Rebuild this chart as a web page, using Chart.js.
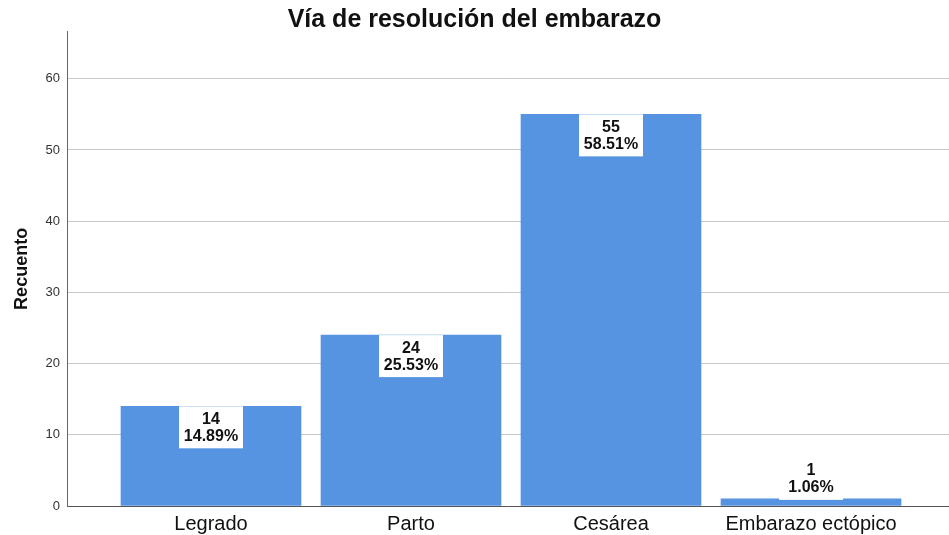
<!DOCTYPE html>
<html>
<head>
<meta charset="utf-8">
<script src="https://cdn.jsdelivr.net/npm/chart.js@4/dist/chart.umd.min.js"></script>
<style>
  html, body { margin: 0; padding: 0; background: #fff; }
  #wrap { width: 949px; height: 535px; }
</style>
</head>
<body>
<div id="wrap"><canvas id="chart"></canvas></div>
<script>
const categories = ['Legrado', 'Parto', 'Cesárea', 'Embarazo ectópico'];
const counts = [14, 24, 55, 1];
const percents = ['14.89%', '25.53%', '58.51%', '1.06%'];
const yTicks = [0, 10, 20, 30, 40, 50, 60];

const font = "'Liberation Sans', Arial, sans-serif";

// white box with count + percent, at the top of each bar
const labelBoxes = {
    id: 'labelBoxes',
    afterDatasetsDraw(chart) {
        const ctx = chart.ctx;
        const meta = chart.getDatasetMeta(0);
        const base = chart.scales.y.getPixelForValue(0);
        const boxW = 64, boxH = 42;
        ctx.save();
        meta.data.forEach(function(bar, i) {
            let top = bar.y;
            if (base - bar.y < boxH) top = bar.y - boxH + 1;
            ctx.fillStyle = '#fff';
            ctx.fillRect(bar.x - boxW / 2, top, boxW, boxH);
            ctx.fillStyle = '#111';
            ctx.font = 'bold 16px ' + font;
            ctx.textAlign = 'center';
            ctx.textBaseline = 'middle';
            ctx.fillText(String(counts[i]), bar.x, top + 13);
            ctx.fillText(percents[i], bar.x, top + 30);
        });
        ctx.restore();
    }
};

new Chart(document.getElementById('chart'), {
    type: 'bar',
    data: {
        datasets: [{
            data: counts.map((v, i) => ({ x: i, y: v })),
            backgroundColor: '#5694E2',
            borderWidth: 0,
            barThickness: 180
        }]
    },
    options: {
        responsive: true,
        maintainAspectRatio: false,
        animation: false,
        layout: { padding: 0 },
        plugins: {
            legend: { display: false },
            tooltip: { enabled: false },
            title: {
                display: true,
                text: 'Vía de resolución del embarazo',
                color: '#111',
                font: { family: font, size: 25, weight: 'bold', lineHeight: 0.95 },
                padding: { top: 8, bottom: 0 }
            }
        },
        scales: {
            x: {
                type: 'linear',
                offset: false,
                min: -0.72,
                max: 3.69,
                afterBuildTicks: function(scale) {
                    scale.ticks = categories.map((c, i) => ({ value: i }));
                },
                afterFit: function(scale) { scale.height = 29; },
                grid: { display: false, drawTicks: false },
                border: { display: true, color: '#555', width: 1 },
                ticks: {
                    autoSkip: false,
                    maxRotation: 0,
                    padding: 6,
                    color: '#111',
                    font: { family: font, size: 20 },
                    callback: function(value) { return categories[value]; }
                }
            },
            y: {
                min: 0,
                max: 66.6,
                afterBuildTicks: function(scale) {
                    scale.ticks = yTicks.map(v => ({ value: v }));
                },
                afterFit: function(scale) { scale.width = 67; },
                grid: { color: '#c8c8c8', drawTicks: false },
                border: { display: true, color: '#666', width: 1 },
                ticks: {
                    padding: 7,
                    color: '#333',
                    font: { family: font, size: 13 }
                },
                title: {
                    display: true,
                    text: 'Recuento',
                    color: '#111',
                    font: { family: font, size: 18, weight: 'bold' },
                    padding: { top: 11, bottom: 0 }
                }
            }
        }
    },
    plugins: [labelBoxes]
});
</script>
</body>
</html>
